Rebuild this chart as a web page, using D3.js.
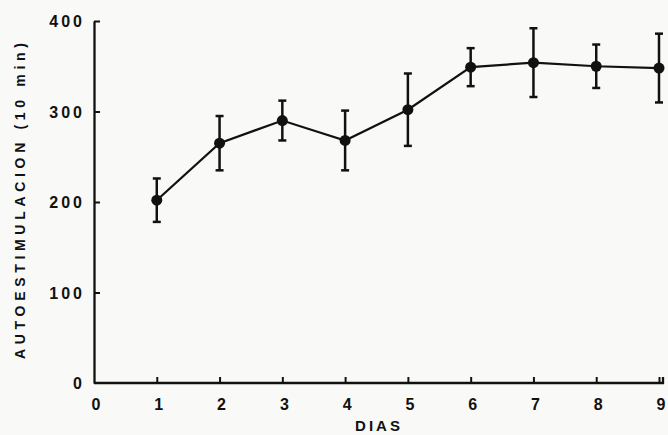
<!DOCTYPE html>
<html>
<head>
<meta charset="utf-8">
<script src="https://cdn.jsdelivr.net/npm/d3@7"></script>
<style>
  html, body { margin: 0; padding: 0; background: #f9f9f7; }
  svg { display: block; font-family: "Liberation Sans", Arial, sans-serif; }
</style>
</head>
<body>
<svg id="chart" width="668" height="435"></svg>
<script>
// values
const dias = [1, 2, 3, 4, 5, 6, 7, 8, 9];
const medias = [202, 265, 290, 268, 302, 349, 354, 350, 348];
const errores = [24, 30, 22, 33, 40, 21, 38, 24, 38];
const xTicks = [0, 1, 2, 3, 4, 5, 6, 7, 8, 9];
const yTicks = [0, 100, 200, 300, 400];

const ink = '#111';
const svg = d3.select('#chart');

const x = d3.scaleLinear().domain([0, 9]).range([94, 659]);
const y = d3.scaleLinear().domain([0, 400]).range([383, 21]);

// axes (ticks pointing inward like the original)
const xAxis = svg.append('g')
    .attr('transform', `translate(0,${y(0)})`)
    .call(d3.axisBottom(x).tickValues(xTicks.slice(1)).tickSizeInner(-6).tickSizeOuter(0).tickFormat(''));
xAxis.select('.domain').attr('d', `M${x(0)},0H${x(9) + 4}V-6`);

const yAxis = svg.append('g')
    .attr('transform', `translate(${x(0)},0)`)
    .call(d3.axisLeft(y).tickValues(yTicks.slice(1)).tickSizeInner(-6).tickSizeOuter(0).tickFormat(''));

svg.selectAll('.domain').attr('stroke', ink).attr('stroke-width', 2.3).attr('fill', 'none');
svg.selectAll('.tick line').attr('stroke', ink).attr('stroke-width', 2);

// tick labels (wide, heavy lettering of the original)
svg.append('g').selectAll('text')
    .data(yTicks)
    .join('text')
    .attr('x', 85)
    .attr('y', d => y(d) + 6)
    .attr('text-anchor', 'end')
    .attr('fill', ink)
    .attr('font-size', 16)
    .attr('font-weight', 'bold')
    .attr('letter-spacing', 3)
    .text(d => d);

svg.append('g').selectAll('text')
    .data(xTicks)
    .join('text')
    .attr('x', d => x(d) + 2)
    .attr('y', 410)
    .attr('text-anchor', 'middle')
    .attr('fill', ink)
    .attr('font-size', 16)
    .attr('font-weight', 'bold')
    .text(d => d);

// axis titles
svg.append('text')
    .attr('transform', 'translate(25,201) rotate(-90)')
    .attr('text-anchor', 'middle')
    .attr('fill', ink)
    .attr('font-size', 14)
    .attr('font-weight', 'bold')
    .attr('textLength', 316)
    .attr('lengthAdjust', 'spacing')
    .text('AUTOESTIMULACION (10 min)');

svg.append('text')
    .attr('x', 379)
    .attr('y', 431)
    .attr('text-anchor', 'middle')
    .attr('fill', ink)
    .attr('font-size', 15)
    .attr('font-weight', 'bold')
    .attr('letter-spacing', 3)
    .text('DIAS');

const datos = dias.map((d, i) => ({ dia: d, media: medias[i], err: errores[i] }));

// error bars
const bars = svg.append('g').selectAll('g')
    .data(datos)
    .join('g')
    .attr('stroke', ink)
    .attr('stroke-width', 2.5);
bars.append('line')
    .attr('x1', d => x(d.dia)).attr('x2', d => x(d.dia))
    .attr('y1', d => y(d.media + d.err)).attr('y2', d => y(d.media - d.err));
bars.append('line')
    .attr('x1', d => x(d.dia) - 4).attr('x2', d => x(d.dia) + 4)
    .attr('y1', d => y(d.media + d.err)).attr('y2', d => y(d.media + d.err));
bars.append('line')
    .attr('x1', d => x(d.dia) - 4).attr('x2', d => x(d.dia) + 4)
    .attr('y1', d => y(d.media - d.err)).attr('y2', d => y(d.media - d.err));

// mean line and points
svg.append('path')
    .datum(datos)
    .attr('fill', 'none')
    .attr('stroke', ink)
    .attr('stroke-width', 2.2)
    .attr('d', d3.line().x(d => x(d.dia)).y(d => y(d.media)));

svg.append('g').selectAll('circle')
    .data(datos)
    .join('circle')
    .attr('cx', d => x(d.dia))
    .attr('cy', d => y(d.media))
    .attr('r', 5.5)
    .attr('fill', ink);
</script>
</body>
</html>
